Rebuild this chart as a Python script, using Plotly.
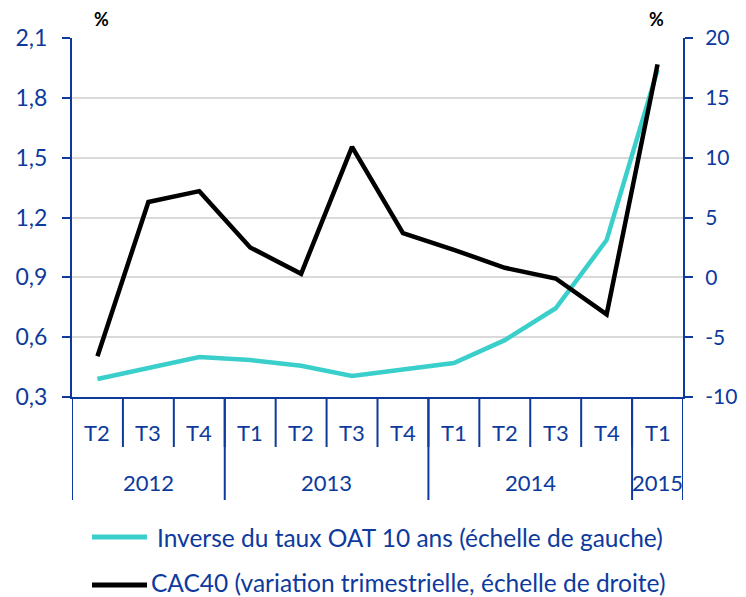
import plotly.graph_objects as go

quarters = ["T2", "T3", "T4", "T1", "T2", "T3", "T4", "T1", "T2", "T3", "T4", "T1"]
years = ["2012", "2013", "2014", "2015"]
year_counts = [3, 4, 4, 1]
oat_inverse = [0.39, 0.445, 0.50, 0.485, 0.457, 0.405, 0.435, 0.47, 0.585, 0.745, 1.087, 1.94]
cac40 = [-6.6, 6.3, 7.2, 2.5, 0.3, 10.9, 3.7, 2.3, 0.8, -0.1, -3.1, 17.8]
left_ticks = [0.3, 0.6, 0.9, 1.2, 1.5, 1.8, 2.1]
right_ticks = [-10, -5, 0, 5, 10, 15, 20]
legend_labels = ["Inverse du taux OAT 10 ans (échelle de gauche)",
                 "CAC40 (variation trimestrielle, échelle de droite)"]

BLUE = "#0D3A9C"
TEAL = "#3ACFCB"
FONT = "Lato"
idx = list(range(len(quarters)))

# page body has an 8px margin: plot area at x 72..683, y 38..397 in window pixels
PW, PH = 611.0, 359.0
def px(x):
    return (x - 72) / PW
def py(y):
    return (397 - y) / PH

fig = go.Figure()
fig.add_trace(go.Scatter(x=idx, y=oat_inverse, mode="lines", line=dict(color=TEAL, width=4.5),
                         name=legend_labels[0], showlegend=False))
fig.add_trace(go.Scatter(x=idx, y=cac40, mode="lines", line=dict(color="black", width=4.5),
                         name=legend_labels[1], yaxis="y2", showlegend=False))

shapes = []
annotations = []
for i in range(len(quarters) + 1):
    shapes.append(dict(type="line", xref="x", yref="paper", x0=i - 0.5, x1=i - 0.5,
                       y0=0, y1=py(447), line=dict(color=BLUE, width=2)))
b = -0.5
shapes.append(dict(type="line", xref="x", yref="paper", x0=b, x1=b, y0=0, y1=py(500),
                   line=dict(color=BLUE, width=2)))
for y, c in zip(years, year_counts):
    annotations.append(dict(x=b + c / 2, y=py(482), xref="x", yref="paper", text=y,
                            showarrow=False, font=dict(family=FONT, size=22, color=BLUE),
                            yanchor="middle"))
    b += c
    shapes.append(dict(type="line", xref="x", yref="paper", x0=b, x1=b, y0=0, y1=py(500),
                       line=dict(color=BLUE, width=2)))
for i, q in enumerate(quarters):
    annotations.append(dict(x=i, y=py(432), xref="x", yref="paper", text=q,
                            showarrow=False, font=dict(family=FONT, size=22, color=BLUE),
                            yanchor="middle"))

for xp in (92, 666):
    annotations.append(dict(xref="paper", yref="paper", x=px(xp), y=py(19), text="<b>%</b>",
                            showarrow=False, yanchor="middle",
                            font=dict(family=FONT, size=18, color="black")))

leg = [(TEAL, 537, 537, 156), ("black", 585, 582, 150)]
for (col, ypx, typx, tx), lab in zip(leg, legend_labels):
    shapes.append(dict(type="line", xref="paper", yref="paper", x0=px(92), x1=px(147),
                       y0=py(ypx), y1=py(ypx), line=dict(color=col, width=5)))
    annotations.append(dict(xref="paper", yref="paper", x=px(tx), y=py(typx), xanchor="left",
                            yanchor="middle", text=lab, showarrow=False, borderpad=0,
                            font=dict(family=FONT, size=24.5, color=BLUE)))

fig.update_layout(
    width=738, height=589,
    margin=dict(l=64, r=63, t=30, b=200, autoexpand=False),
    plot_bgcolor="white", paper_bgcolor="white",
    separators=", ",
    xaxis=dict(range=[-0.5, len(quarters) - 0.5], showticklabels=False, showgrid=False,
               showline=True, linecolor=BLUE, linewidth=2, zeroline=False, ticks="",
               automargin=False),
    yaxis=dict(range=[0.3, 2.1], tickvals=left_ticks, tickformat=".1f", showgrid=True,
               gridcolor="#D9D9D9", gridwidth=1.5, showline=True, linecolor=BLUE, linewidth=2,
               ticks="outside", ticklen=8, tickcolor=BLUE, tickwidth=2, zeroline=False,
               ticklabelstandoff=10, automargin=False,
               tickfont=dict(family=FONT, size=23, color=BLUE)),
    yaxis2=dict(range=[-10, 20], tickvals=right_ticks, ticktext=[str(v) for v in right_ticks],
                overlaying="y", side="right",
                showgrid=False, showline=True, linecolor=BLUE, linewidth=2,
                ticks="outside", ticklen=8, tickcolor=BLUE, tickwidth=2, zeroline=False,
                ticklabelstandoff=8, automargin=False,
                tickfont=dict(family=FONT, size=21, color=BLUE)),
    shapes=shapes, annotations=annotations,
)
fig.write_html("out.html")
